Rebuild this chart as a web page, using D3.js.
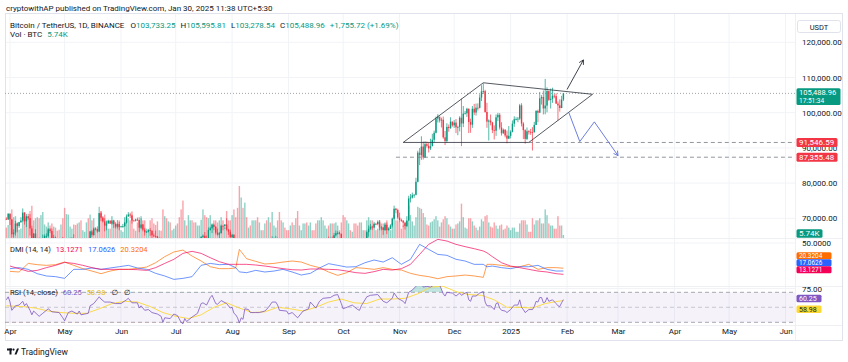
<!DOCTYPE html>
<html>

<head>
    <meta charset="utf-8">
    <title>BTCUSDT 1D</title>
    <script src="https://d3js.org/d3.v7.min.js"></script>
    <style>
    body {
        margin: 0;
        background: #fff;
    }

    svg text {
        font-family: Roboto, "Liberation Sans", "DejaVu Sans", sans-serif;
        fill: #131722;
    }
    </style>
</head>

<body>
    <script>
    // daily BTCUSDT candles from 30 Mar 2024, prices in thousands of USDT
    var startDate = "2024-03-30";
    var firstOpen = 69.87;
    var closes = [
        69.65, 71.33,
        69.70, 65.46, 65.96, 68.49, 67.84, 68.90, 69.36, 71.62, 69.14, 70.59, 70.06, 67.12, 63.92, 65.66, 63.42, 63.79, 61.28, 63.47, 63.82, 64.94, 64.94, 66.84, 66.41, 64.28, 64.50, 63.77, 63.46, 63.12, 63.84, 60.64,
        58.25, 59.12, 62.89, 63.89, 64.03, 63.16, 62.33, 61.19, 63.07, 60.79, 60.82, 61.48, 62.90, 61.55, 66.27, 65.23, 67.05, 66.94, 66.27, 71.45, 70.14, 69.12, 67.93, 68.52, 69.29, 68.50, 69.40, 68.37, 67.63, 68.35, 67.49,
        67.71, 67.76, 68.80, 70.55, 71.08, 70.79, 69.35, 69.31, 69.65, 69.51, 67.32, 68.24, 66.76, 66.01, 66.19, 66.64, 66.49, 65.15, 64.96, 64.83, 64.10, 64.25, 63.21, 60.27, 61.80, 60.86, 61.70, 60.32, 60.89, 62.68,
        62.77, 62.03, 60.20, 57.03, 56.66, 58.23, 55.85, 56.70, 58.05, 57.72, 57.34, 57.90, 59.21, 60.80, 64.72, 65.04, 64.09, 63.97, 66.68, 67.15, 68.16, 67.55, 65.92, 65.37, 65.77, 67.90, 67.80, 68.25, 66.78, 66.19, 64.62,
        65.35, 61.50, 60.68, 58.11, 54.02, 56.03, 55.12, 61.71, 60.88, 60.94, 58.71, 59.35, 60.60, 58.74, 57.56, 58.87, 59.48, 58.43, 59.49, 59.01, 61.16, 60.38, 64.10, 64.18, 64.26, 62.83, 59.42, 59.03, 59.37, 59.12, 58.97,
        57.30, 59.13, 57.48, 57.97, 56.16, 53.95, 54.16, 54.88, 57.04, 57.65, 57.34, 58.13, 60.50, 59.99, 59.13, 58.21, 60.31, 61.76, 62.95, 63.20, 63.35, 63.58, 63.33, 64.30, 63.14, 65.18, 65.77, 65.86, 65.60, 63.33,
        60.80, 60.65, 60.75, 62.08, 62.06, 62.82, 62.22, 62.13, 60.58, 60.27, 62.45, 63.19, 62.85, 66.08, 67.04, 67.61, 67.40, 68.42, 68.36, 69.00, 67.37, 67.38, 66.68, 68.16, 66.64, 67.01, 67.97, 69.91, 72.72, 72.34, 70.22,
        69.48, 69.36, 68.76, 67.80, 69.37, 75.63, 75.90, 76.54, 76.68, 80.38, 88.65, 87.95, 90.38, 87.30, 91.06, 90.61, 89.85, 90.46, 92.31, 94.29, 98.35, 98.90, 97.78, 98.00, 93.01, 91.98, 95.96, 95.64, 97.46, 96.41,
        97.19, 95.84, 95.96, 98.58, 96.94, 99.74, 99.83, 101.11, 97.35, 96.59, 101.12, 100.04, 101.42, 101.37, 104.30, 106.06, 106.14, 100.20, 97.46, 97.76, 97.22, 95.10, 94.88, 98.68, 99.40, 95.79, 94.16, 95.16, 93.53, 92.64, 93.43,
        94.59, 96.89, 98.14, 98.21, 98.31, 102.08, 96.92, 95.04, 92.55, 94.73, 94.56, 94.52, 94.50, 96.53, 100.50, 99.99, 104.08, 104.46, 101.21, 102.02, 106.15, 103.65, 103.96, 104.82, 104.71, 102.59, 102.08, 101.33, 103.733, 105.489
    ];
    var highs = [
        70.30, 71.37,
        71.34, 69.70, 66.90, 69.30, 68.70, 69.00, 70.30, 72.80, 71.75, 71.20, 71.30, 71.20, 67.90, 65.80, 66.90, 64.40, 64.50, 64.10, 65.40, 65.40, 65.70, 67.20, 67.20, 67.10, 65.30, 64.80, 63.90, 64.40, 64.20, 64.70,
        60.90, 59.60, 63.30, 64.50, 64.60, 65.50, 64.40, 62.90, 63.40, 63.40, 61.40, 61.80, 63.40, 63.10, 66.40, 66.70, 67.40, 67.40, 67.70, 71.50, 71.95, 70.60, 70.00, 69.20, 69.60, 69.50, 70.60, 69.60, 68.90, 69.50, 69.00,
        67.85, 68.40, 70.30, 71.10, 71.75, 71.60, 71.95, 69.60, 69.90, 70.20, 69.55, 69.99, 68.40, 67.30, 66.40, 66.99, 67.20, 66.50, 65.70, 66.50, 65.00, 64.50, 64.50, 63.40, 62.30, 62.50, 62.40, 62.20, 61.20, 63.00,
        63.80, 63.30, 62.30, 60.50, 57.50, 58.50, 58.45, 58.20, 58.30, 59.50, 59.40, 58.50, 59.80, 61.40, 64.90, 65.40, 66.10, 65.10, 67.40, 67.60, 68.40, 68.50, 67.80, 67.10, 66.10, 68.20, 69.40, 68.30, 70.00, 66.99, 66.80,
        65.60, 65.40, 62.20, 61.10, 58.30, 57.00, 57.70, 62.70, 61.80, 61.50, 61.90, 60.70, 61.60, 61.80, 59.80, 59.80, 59.60, 60.30, 59.60, 61.40, 61.80, 61.40, 64.90, 64.50, 65.00, 64.50, 63.20, 60.20, 61.20, 59.90, 59.40,
        59.00, 59.40, 59.80, 58.50, 58.30, 56.99, 54.90, 55.30, 58.10, 58.00, 57.99, 58.60, 60.70, 60.60, 60.40, 59.20, 61.30, 61.80, 64.10, 64.10, 63.60, 64.00, 64.80, 64.50, 64.80, 65.80, 66.50, 66.30, 66.10, 65.60,
        64.10, 62.40, 61.50, 62.50, 62.40, 62.98, 64.50, 63.30, 62.50, 61.30, 63.40, 63.50, 63.30, 66.50, 67.95, 68.40, 67.90, 68.99, 68.70, 69.40, 69.50, 67.80, 67.50, 68.80, 68.80, 67.40, 68.30, 70.20, 73.60, 72.96, 72.70,
        71.60, 69.90, 69.40, 69.00, 70.60, 76.40, 76.90, 77.30, 76.90, 81.50, 89.20, 89.96, 93.30, 91.80, 91.90, 91.80, 91.50, 92.60, 94.00, 94.90, 98.90, 99.60, 98.80, 98.60, 98.90, 94.80, 97.00, 96.65, 98.70, 97.50,
        97.90, 98.20, 96.30, 99.00, 104.00, 101.90, 100.50, 101.40, 101.20, 98.30, 101.90, 102.50, 102.60, 102.65, 105.25, 107.80, 108.35, 106.50, 102.80, 98.10, 99.50, 97.40, 96.40, 99.50, 99.96, 99.90, 97.30, 95.50, 95.30, 94.90, 96.20,
        95.00, 97.80, 98.98, 98.70, 98.80, 102.50, 102.70, 97.30, 95.30, 95.80, 95.00, 95.40, 95.90, 97.40, 100.70, 100.90, 105.90, 104.99, 106.30, 109.59, 107.20, 106.30, 106.85, 107.10, 105.30, 105.50, 103.20, 103.80, 104.80, 105.596
    ];
    var lows = [
        69.50, 69.56,
        68.10, 64.50, 64.50, 65.10, 66.00, 67.30, 68.70, 69.00, 68.20, 67.50, 69.55, 65.10, 60.66, 62.30, 62.30, 61.60, 59.80, 60.80, 59.60, 63.10, 64.30, 64.50, 65.80, 63.80, 62.80, 63.30, 62.40, 62.80, 61.80, 59.20,
        56.55, 56.90, 58.80, 62.60, 62.80, 62.70, 62.30, 60.90, 60.60, 60.20, 60.50, 60.60, 60.80, 61.10, 61.30, 64.60, 65.10, 66.60, 65.90, 66.10, 69.20, 68.80, 66.30, 66.60, 68.50, 68.40, 68.20, 67.30, 67.10, 67.10, 66.60,
        67.40, 67.30, 67.60, 68.50, 70.40, 70.10, 68.50, 69.20, 69.10, 69.20, 66.05, 66.90, 66.30, 65.10, 65.90, 66.00, 65.00, 64.10, 64.70, 64.50, 63.40, 63.95, 63.20, 58.40, 60.20, 60.70, 60.60, 60.00, 60.30, 60.70,
        62.50, 61.80, 59.40, 56.80, 53.50, 56.00, 55.70, 54.30, 56.60, 57.20, 57.00, 56.50, 57.80, 59.30, 60.60, 62.40, 63.90, 63.20, 63.30, 66.50, 65.80, 66.60, 65.40, 65.10, 63.40, 65.70, 66.60, 67.00, 66.50, 65.30, 64.50,
        62.30, 61.20, 59.80, 57.20, 49.00, 54.00, 54.60, 54.70, 59.60, 60.30, 58.40, 57.60, 58.50, 58.40, 56.10, 57.10, 58.80, 58.40, 57.90, 58.60, 58.80, 59.80, 60.30, 63.60, 63.80, 62.80, 58.10, 57.90, 58.80, 57.70, 58.70,
        57.20, 57.10, 57.40, 55.60, 55.70, 52.55, 53.70, 53.60, 54.60, 56.40, 55.50, 57.30, 57.60, 59.40, 58.70, 57.50, 57.60, 59.20, 61.70, 62.40, 62.70, 62.35, 62.80, 62.70, 62.70, 62.70, 64.80, 65.40, 65.40, 62.90,
        60.20, 59.99, 59.80, 60.50, 61.70, 61.80, 62.10, 61.90, 60.30, 58.90, 60.10, 62.40, 62.00, 62.40, 64.80, 66.70, 66.70, 67.20, 68.10, 68.00, 66.60, 66.60, 65.30, 66.40, 65.50, 66.50, 66.90, 67.40, 69.70, 71.40, 69.70,
        68.80, 69.00, 67.50, 66.80, 67.50, 69.30, 74.50, 75.60, 75.80, 76.50, 80.20, 85.10, 86.60, 86.70, 87.10, 90.10, 88.70, 89.40, 90.80, 91.50, 94.10, 97.20, 97.20, 95.80, 92.60, 90.80, 91.50, 94.60, 95.40, 96.00,
        95.70, 94.20, 93.60, 94.70, 90.50, 95.90, 99.50, 98.80, 94.20, 94.30, 95.70, 99.30, 99.20, 100.60, 101.20, 103.30, 105.30, 100.00, 95.70, 92.10, 96.40, 94.20, 92.40, 93.40, 97.60, 95.20, 93.50, 94.00, 93.00, 91.30, 92.50,
        92.70, 94.40, 96.00, 97.80, 97.30, 97.90, 96.10, 92.50, 91.20, 92.20, 93.80, 93.70, 89.26, 94.30, 96.50, 97.30, 100.00, 102.30, 99.50, 99.55, 100.10, 103.30, 101.20, 102.80, 104.10, 102.50, 97.80, 100.30, 101.30, 103.279
    ];
    // volume in thousands of BTC
    var volumes = [
        20, 25,
        45, 55, 40, 42, 30, 16, 18, 42, 40, 38, 40, 52, 62, 34, 38, 40, 38, 44, 50, 26, 22, 30, 24, 28, 22, 20, 14, 16, 26, 38,
        58, 46, 45, 22, 18, 26, 25, 28, 30, 34, 15, 12, 30, 38, 45, 34, 38, 20, 15, 60, 52, 40, 45, 34, 18, 18, 30, 30, 28, 28, 34,
        15, 12, 30, 34, 38, 34, 45, 18, 14, 30, 40, 42, 34, 34, 18, 14, 34, 38, 28, 25, 32, 15, 14, 55, 42, 38, 32, 30, 15, 18,
        24, 28, 40, 55, 72, 34, 24, 44, 34, 34, 30, 30, 24, 24, 35, 55, 44, 40, 38, 44, 28, 34, 34, 30, 34, 40, 24, 20, 52, 34, 34,
        44, 55, 40, 58, 100, 78, 58, 68, 40, 20, 24, 34, 34, 34, 40, 30, 15, 15, 28, 34, 40, 30, 50, 24, 20, 34, 50, 34, 30, 20, 15,
        15, 24, 30, 25, 38, 52, 24, 15, 28, 28, 30, 24, 30, 15, 15, 28, 34, 34, 40, 34, 24, 18, 24, 28, 28, 28, 30, 24, 15, 30,
        44, 40, 34, 28, 15, 12, 28, 28, 24, 30, 30, 15, 15, 34, 40, 34, 34, 28, 15, 18, 34, 28, 28, 28, 34, 20, 15, 28, 44, 34, 34,
        30, 18, 24, 28, 32, 62, 44, 32, 24, 40, 60, 58, 56, 48, 40, 26, 24, 30, 32, 36, 42, 34, 22, 30, 36, 42, 38, 26, 22, 18,
        18, 26, 28, 32, 66, 40, 20, 18, 38, 38, 32, 24, 20, 15, 22, 36, 32, 42, 44, 30, 22, 20, 30, 24, 18, 24, 26, 16, 18, 24, 20,
        15, 20, 20, 12, 12, 28, 34, 34, 34, 26, 12, 12, 38, 26, 34, 34, 38, 28, 28, 55, 44, 28, 24, 24, 18, 18, 42, 24, 24, 5.74
    ];

    var monthTicks = ["2024-04-01", "2024-05-01", "2024-06-01", "2024-07-01", "2024-08-01", "2024-09-01", "2024-10-01",
        "2024-11-01", "2024-12-01", "2025-01-01", "2025-02-01", "2025-03-01", "2025-04-01", "2025-05-01", "2025-06-01"];
    var monthLabels = ["Apr", "May", "Jun", "Jul", "Aug", "Sep", "Oct", "Nov", "Dec", "2025", "Feb", "Mar", "Apr", "May", "Jun"];
    var priceTicks = [70000, 80000, 90000, 100000, 110000, 120000];

    // indicator readings, day 0 = 1 Apr 2024
    var dmiDays = [0, 5, 10, 15, 20, 25, 30, 35, 40, 45, 50, 55, 60, 65, 70, 75, 80, 85, 90, 95, 100, 105, 110, 115, 120, 124, 126,
        130, 135, 140, 145, 150, 155, 160, 165, 170, 175, 180, 185, 190, 195, 200, 205, 210, 215, 220, 225, 230, 235, 240, 245,
        250, 255, 260, 262, 265, 270, 275, 280, 285, 290, 295, 300, 304];
    var adx = [22.9, 19.8, 16.6, 17.8, 21.0, 23.7, 27.2, 26.0, 23.7, 21.0, 19.0, 19.0, 19.0, 19.0, 18.6, 17.8, 21.0, 26.0, 30.8, 37.8,
        40.2, 37.8, 32.7, 28.0, 24.9, 24.9, 24.9, 24.9, 24.1, 22.9, 21.4, 19.8, 18.6, 18.2, 19.4, 19.4, 19.0, 18.6, 17.0, 15.1, 14.3,
        16.3, 19.0, 18.2, 19.8, 24.9, 36.6, 48.4, 54.3, 52.3, 48.4, 45.7, 43.3, 40.6, 38.5, 33.9, 26.8, 22.9, 21.0, 19.0, 17.0, 15.9,
        13.9, 13.1271];
    var plusDI = [19.8, 21.0, 19.0, 13.9, 11.2, 10.4, 8.4, 19.0, 19.0, 20.6, 19.0, 20.6, 22.1, 23.7, 20.6, 19.0, 14.3, 11.2, 7.2, 8.4,
        10.4, 23.7, 26.0, 24.5, 24.9, 21.0, 16.0, 15.1, 17.8, 15.9, 17.0, 19.0, 15.9, 12.3, 14.3, 20.6, 25.7, 23.7, 21.7, 22.1, 26.8,
        30.0, 27.6, 32.7, 24.9, 30.8, 48.4, 42.5, 36.6, 35.5, 30.8, 28.8, 24.9, 24.9, 22.0, 22.9, 21.0, 19.8, 22.1, 22.1, 23.7, 19.0,
        17.0, 17.0626];
    var minusDI = [16.6, 15.9, 26.0, 24.5, 23.7, 24.5, 27.6, 23.7, 19.8, 17.0, 13.9, 17.0, 19.0, 19.0, 20.2, 21.7, 26.8, 33.9, 39.4, 41.7,
        34.7, 28.8, 22.1, 19.8, 19.8, 20.6, 42.5, 31.5, 28.4, 25.3, 26.0, 27.6, 28.8, 27.6, 23.7, 21.0, 15.9, 11.9, 15.1, 21.0, 20.2,
        19.0, 21.0, 19.0, 18.2, 14.3, 11.9, 10.4, 8.0, 10.4, 11.2, 12.3, 11.2, 9.6, 24.9, 24.9, 23.7, 22.1, 22.1, 24.9, 19.0, 21.0,
        21.0, 20.3204];

    var rsiDays = [-2, -1, 0, 1, 3, 5, 7, 8, 9, 11, 12, 13, 16, 18, 21, 23, 27, 29, 30, 32, 34, 37, 38, 39, 43, 44, 46, 49, 50, 52, 55,
        58, 61, 64, 65, 67, 70, 71, 72, 74, 76, 78, 81, 83, 84, 85, 88, 90, 92, 94, 95, 96, 97, 100, 103, 105, 106, 108, 110, 111, 113,
        114, 116, 119, 121, 122, 123, 124, 125, 126, 127, 128, 129, 131, 132, 135, 137, 140, 142, 144, 146, 147, 148, 152, 153, 155,
        158, 161, 164, 165, 168, 170, 172, 176, 178, 180, 182, 183, 186, 188, 191, 192, 193, 196, 198, 202, 205, 207, 210, 211, 213,
        216, 217, 219, 221, 223, 224, 226, 227, 229, 231, 233, 235, 236, 238, 239, 240, 243, 245, 247, 248, 250, 251, 252, 253, 254,
        256, 258, 260, 261, 262, 264, 266, 267, 268, 269, 270, 272, 273, 275, 277, 279, 280, 281, 282, 283, 285, 287, 288, 289, 290,
        291, 292, 293, 294, 295, 296, 298, 300, 301, 302, 303, 304];
    var rsi = [60, 64, 57, 46, 52, 53, 58, 52, 55, 46, 40, 45, 38, 42, 48, 44, 43, 36, 32, 43, 45, 41, 45, 40, 42, 52, 55, 64, 61, 57, 57,
        55, 55, 60, 62, 56, 56, 49, 52, 46, 47, 43, 41, 38, 30, 36, 35, 41, 39, 30, 28, 35, 31, 37, 42, 55, 56, 53, 63, 66, 55,
        54, 59, 55, 49, 50, 42, 40, 36, 29, 36, 34, 48, 47, 43, 43, 43, 45, 50, 57, 57, 53, 46, 45, 41, 43,
        36, 45, 48, 57, 49, 58, 62, 63, 66, 67, 55, 48, 51, 53, 47, 46, 52, 64, 66, 67, 58, 56, 62, 69, 62,
        58, 55, 70, 73, 78, 84, 84, 77, 78, 77, 80, 82, 80, 68, 65, 70, 69, 65, 69, 66, 69, 70, 60, 58, 65,
        65, 69, 71, 57, 52, 52, 47, 55, 56, 49, 46, 45, 43, 47, 53, 53, 60, 50, 47, 43, 47, 47, 51, 58, 57,
        63, 63, 56, 57, 63, 58, 60, 55, 52, 51, 56, 60.25];
    var rsiMaDays = [-2, 7, 14, 21, 28, 35, 42, 49, 56, 63, 70, 77, 84, 91, 98, 105, 112, 119, 126, 133, 140, 147, 154, 161, 168, 175,
        182, 189, 196, 203, 210, 217, 224, 231, 238, 245, 252, 259, 266, 273, 280, 287, 294, 301, 304];
    var rsiMa = [52, 51, 49, 45, 43, 42, 42, 48, 55, 58, 57, 51, 43, 38, 35, 40, 50, 56, 49, 43, 44, 50, 48, 45, 50, 57,
        61, 56, 55, 61, 61, 62, 68, 77, 78, 71, 67, 66, 60, 50, 50, 49, 55, 58, 58.98];

    // drawings on the chart, [date, price in thousands]
    var diamond = [["2024-11-03", 91.55], ["2024-12-17", 108.5], ["2025-02-15", 105.23], ["2025-01-11", 91.55], ["2024-11-03", 91.55]];
    var upArrow = [["2025-02-01", 106.6], ["2025-02-10", 115.0]];
    var downPath = [["2025-02-02", 100.0], ["2025-02-08", 91.8], ["2025-02-16", 97.4], ["2025-03-01", 87.8]];
    var levelPrices = [91546.59, 87355.48];
    var levelStarts = ["2025-01-11", "2024-10-30"];
    var lastBar = [103733.25, 105595.81, 103278.54, 105488.96];
    var lastChange = [1755.72, 1.69];

    var width = 848, height = 362;
    var up = "#089981", down = "#f23645";
    var parse = d3.timeParse("%Y-%m-%d");
    var day0 = parse("2024-04-01");
    var first = parse(startDate);

    var x = d3.scaleTime().domain([day0, parse("2025-06-01")]).range([10, 785.5]);
    var yP = d3.scaleLinear().domain([64403, 128324]).range([238, 13]);
    var yV = d3.scaleLinear().domain([0, 100]).range([238, 186]);
    var yD = d3.scaleLinear().domain([0, 50]).range([285.5, 243]);
    var yR = d3.scaleLinear().domain([30, 70]).range([322.3, 292.3]);
    var dayX = function(d) { return x(d3.timeDay.offset(day0, d)); };

    var svg = d3.select("body").append("svg")
        .attr("width", width)
        .attr("height", height);

    var defs = svg.append("defs");
    function clip(id, y0, y1) {
        defs.append("clipPath").attr("id", id).append("rect")
            .attr("x", 5).attr("y", y0).attr("width", 790).attr("height", y1 - y0);
    }
    clip("cp", 13, 238);
    clip("cd", 238, 286);
    clip("cr", 286, 325);
    clip("cob", 286, yR(70));
    clip("cos", yR(30), 325);

    // frame and grid
    svg.append("rect").attr("x", 5.5).attr("y", 13.5).attr("width", 837).attr("height", 327)
        .attr("fill", "none").attr("stroke", "#e0e3eb");
    svg.append("g").selectAll("line").data(monthTicks).enter().append("line")
        .attr("x1", function(d) { return x(parse(d)); })
        .attr("x2", function(d) { return x(parse(d)); })
        .attr("y1", 14).attr("y2", 325)
        .attr("stroke", "#f2f3f7");
    svg.append("g").selectAll("line").data(priceTicks).enter().append("line")
        .attr("x1", 6).attr("x2", 795)
        .attr("y1", function(d) { return yP(d); })
        .attr("y2", function(d) { return yP(d); })
        .attr("stroke", "#f2f3f7");
    [yD(50), yR(75)].forEach(function(v) {
        svg.append("line").attr("x1", 6).attr("x2", 795).attr("y1", v).attr("y2", v).attr("stroke", "#f2f3f7");
    });
    [238, 286, 325].forEach(function(v) {
        svg.append("line").attr("x1", 6).attr("x2", 842).attr("y1", v + 0.5).attr("y2", v + 0.5).attr("stroke", "#eef0f4");
    });
    svg.append("line").attr("x1", 795.5).attr("x2", 795.5).attr("y1", 14).attr("y2", 340).attr("stroke", "#eef0f4");

    // candles
    var bars = closes.map(function(c, i) {
        return {
            date: d3.timeDay.offset(first, i),
            open: i ? closes[i - 1] : firstOpen,
            close: c,
            high: highs[i],
            low: lows[i],
            vol: volumes[i]
        };
    });

    var price = svg.append("g").attr("clip-path", "url(#cp)");

    price.selectAll("rect.vol").data(bars).enter().append("rect")
        .attr("class", "vol")
        .attr("x", function(d) { return x(d.date) - 0.7; })
        .attr("width", 1.4)
        .attr("y", function(d) { return yV(d.vol); })
        .attr("height", function(d) { return yV(0) - yV(d.vol); })
        .attr("fill", function(d) { return d.close >= d.open ? up : down; })
        .attr("fill-opacity", 0.45);

    // current price line
    price.append("line")
        .attr("x1", 5).attr("x2", 795)
        .attr("y1", yP(lastBar[3])).attr("y2", yP(lastBar[3]))
        .attr("stroke", "#8a8d96").attr("stroke-width", 0.8).attr("stroke-dasharray", "1,2");

    price.selectAll("line.wick").data(bars).enter().append("line")
        .attr("class", "wick")
        .attr("x1", function(d) { return x(d.date); })
        .attr("x2", function(d) { return x(d.date); })
        .attr("y1", function(d) { return yP(d.high * 1000); })
        .attr("y2", function(d) { return yP(d.low * 1000); })
        .attr("stroke", function(d) { return d.close >= d.open ? up : down; })
        .attr("stroke-width", 0.7);

    price.selectAll("rect.body").data(bars).enter().append("rect")
        .attr("class", "body")
        .attr("x", function(d) { return x(d.date) - 0.7; })
        .attr("width", 1.4)
        .attr("y", function(d) { return yP(Math.max(d.open, d.close) * 1000); })
        .attr("height", function(d) { return Math.max(0.8, Math.abs(yP(d.open * 1000) - yP(d.close * 1000))); })
        .attr("fill", function(d) { return d.close >= d.open ? up : down; });

    // dashed levels
    levelPrices.forEach(function(p, i) {
        price.append("line")
            .attr("x1", x(parse(levelStarts[i]))).attr("x2", 795)
            .attr("y1", yP(p)).attr("y2", yP(p))
            .attr("stroke", "#787b86").attr("stroke-width", 0.8).attr("stroke-dasharray", "4,3");
    });

    // drawings
    var pt = d3.line()
        .x(function(d) { return x(parse(d[0])); })
        .y(function(d) { return yP(d[1] * 1000); });
    price.append("path").attr("d", pt(diamond))
        .attr("fill", "none").attr("stroke", "#2a2e39").attr("stroke-width", 0.8);

    function arrow(points, color) {
        price.append("path").attr("d", pt(points))
            .attr("fill", "none").attr("stroke", color).attr("stroke-width", 0.9);
        var a = points[points.length - 2], b = points[points.length - 1];
        var x1 = x(parse(a[0])), y1 = yP(a[1] * 1000), x2 = x(parse(b[0])), y2 = yP(b[1] * 1000);
        var ang = Math.atan2(y2 - y1, x2 - x1), s = 5;
        var head = [[x2 - s * Math.cos(ang - 0.5), y2 - s * Math.sin(ang - 0.5)], [x2, y2],
            [x2 - s * Math.cos(ang + 0.5), y2 - s * Math.sin(ang + 0.5)]];
        price.append("path").attr("d", d3.line()(head))
            .attr("fill", "none").attr("stroke", color).attr("stroke-width", 0.9);
    }
    arrow(upArrow, "#2a2e39");
    arrow(downPath, "#5b6fd8");

    // DMI pane
    var dmi = svg.append("g").attr("clip-path", "url(#cd)");
    var dLine = function(vals) {
        return d3.line()
            .x(function(d, i) { return dayX(dmiDays[i]); })
            .y(function(d) { return yD(d); })(vals);
    };
    [[minusDI, "#ff6d00"], [plusDI, "#2962ff"], [adx, "#f50057"]].forEach(function(s) {
        dmi.append("path").attr("d", dLine(s[0]))
            .attr("fill", "none").attr("stroke", s[1]).attr("stroke-width", 0.8).attr("stroke-opacity", 0.85);
    });

    // RSI pane
    var rp = svg.append("g").attr("clip-path", "url(#cr)");
    rp.append("rect").attr("x", 5).attr("width", 790)
        .attr("y", yR(70)).attr("height", yR(30) - yR(70))
        .attr("fill", "#7e57c2").attr("fill-opacity", 0.08);
    [70, 50, 30].forEach(function(v) {
        rp.append("line").attr("x1", 5).attr("x2", 795).attr("y1", yR(v)).attr("y2", yR(v))
            .attr("stroke", "#787b86").attr("stroke-opacity", v == 50 ? 0.45 : 0.8)
            .attr("stroke-width", 0.8).attr("stroke-dasharray", "4,3");
    });
    var rsiPts = rsi.map(function(v, i) { return [dayX(rsiDays[i]), v]; });
    rp.append("path").attr("clip-path", "url(#cob)")
        .attr("d", d3.area().x(function(d) { return d[0]; }).y0(yR(70)).y1(function(d) { return yR(d[1]); })(rsiPts))
        .attr("fill", up).attr("fill-opacity", 0.25);
    rp.append("path").attr("clip-path", "url(#cos)")
        .attr("d", d3.area().x(function(d) { return d[0]; }).y0(yR(30)).y1(function(d) { return yR(d[1]); })(rsiPts))
        .attr("fill", down).attr("fill-opacity", 0.25);
    rp.append("path")
        .attr("d", d3.line().x(function(d, i) { return dayX(rsiMaDays[i]); }).y(function(d) { return yR(d); })(rsiMa))
        .attr("fill", "none").attr("stroke", "#fdd835").attr("stroke-width", 0.9);
    rp.append("path")
        .attr("d", d3.line().x(function(d) { return d[0]; }).y(function(d) { return yR(d[1]); })(rsiPts))
        .attr("fill", "none").attr("stroke", "#7e57c2").attr("stroke-width", 0.8);

    // axes
    svg.append("g").attr("transform", "translate(795,0)")
        .call(d3.axisRight(yP).tickValues(priceTicks).tickFormat(d3.format(",.2f")).tickSize(0).tickPadding(7));
    svg.append("g").attr("transform", "translate(795,0)")
        .call(d3.axisRight(yD).tickValues([50]).tickFormat(d3.format(".4f")).tickSize(0).tickPadding(7));
    svg.append("g").attr("transform", "translate(795,0)")
        .call(d3.axisRight(yR).tickValues([75]).tickFormat(d3.format(".2f")).tickSize(0).tickPadding(7));
    svg.append("g").attr("transform", "translate(0,325)")
        .call(d3.axisBottom(x).tickValues(monthTicks.map(parse))
            .tickFormat(function(d, i) { return monthLabels[i]; }).tickSize(0).tickPadding(3));
    svg.selectAll(".domain").remove();
    svg.selectAll(".tick text").attr("font-size", 8).style("fill", "#131722")
        .style("font-family", "Roboto, 'Liberation Sans', sans-serif");

    svg.append("rect").attr("x", 797.5).attr("y", 20.5).attr("width", 43).attr("height", 12)
        .attr("fill", "#fff").attr("stroke", "#e0e3eb").attr("rx", 2);
    svg.append("text").attr("x", 819).attr("y", 29.5).attr("text-anchor", "middle")
        .attr("font-size", 7.5).text("USDT");

    // value tags on the right scale
    function tag(y, txt, fill, w, h, color, size) {
        svg.append("rect").attr("x", 796.5).attr("y", y - h / 2).attr("width", w).attr("height", h)
            .attr("rx", 1.5).attr("fill", fill);
        svg.append("text").attr("x", 799).attr("y", y).attr("dy", "0.35em")
            .attr("font-size", size || 8).style("fill", color || "#fff").text(txt);
    }
    var f2 = d3.format(",.2f");
    var yLast = yP(lastBar[3]);
    svg.append("rect").attr("x", 796.5).attr("y", yLast - 5.2).attr("width", 44).attr("height", 16.8)
        .attr("rx", 1.5).attr("fill", up);
    svg.append("text").attr("x", 799).attr("y", yLast - 0.6).attr("dy", "0.35em")
        .attr("font-size", 7.5).style("fill", "#fff").text(f2(lastBar[3]));
    svg.append("text").attr("x", 799).attr("y", yLast + 7.4).attr("dy", "0.35em")
        .attr("font-size", 6.5).style("fill", "#fff").text("17:51:34");
    tag(yP(levelPrices[0]), f2(levelPrices[0]), "#f23645", 41, 9);
    tag(yP(levelPrices[1]), f2(levelPrices[1]), "#f23645", 41, 9);
    tag(yV(volumes[volumes.length - 1]) - 1.5, "5.74K", up, 26, 8.5);
    tag(255.7, d3.format(".4f")(minusDI[minusDI.length - 1]), "#ff6d00", 35, 7, "#fff", 6.4);
    tag(262.7, d3.format(".4f")(plusDI[plusDI.length - 1]), "#2962ff", 35, 7, "#fff", 6.4);
    tag(269.7, d3.format(".4f")(adx[adx.length - 1]), "#f50057", 35, 7, "#fff", 6.4);
    tag(298.6, d3.format(".2f")(rsi[rsi.length - 1]), "#7e57c2", 25, 7.5, "#fff", 7);
    tag(309.3, d3.format(".2f")(rsiMa[rsiMa.length - 1]), "#fdd835", 25, 7.5, "#131722", 7);

    // header texts
    var teal = "#089981";
    svg.append("text").attr("x", 6).attr("y", 11).attr("font-size", 8)
        .text("cryptowithAP published on TradingView.com, Jan 30, 2025 11:38 UTC+5:30");
    var h2 = svg.append("text").attr("x", 10).attr("y", 28).attr("font-size", 8);
    h2.append("tspan").text("Bitcoin / TetherUS, 1D, BINANCE");
    ["O", "H", "L", "C"].forEach(function(k, i) {
        h2.append("tspan").attr("dx", i ? 5 : 6).text(k);
        h2.append("tspan").style("fill", teal).text(f2(lastBar[i]));
    });
    h2.append("tspan").attr("dx", 5).style("fill", teal)
        .text("+" + f2(lastChange[0]) + " (+" + d3.format(".2f")(lastChange[1]) + "%)");
    var h3 = svg.append("text").attr("x", 10).attr("y", 37).attr("font-size", 8);
    h3.append("tspan").text("Vol · BTC");
    h3.append("tspan").attr("dx", 5).style("fill", teal).text("5.74K");

    var dl = svg.append("text").attr("x", 10).attr("y", 251.5).attr("font-size", 7.5);
    dl.append("tspan").text("DMI (14, 14)");
    dl.append("tspan").attr("dx", 5).style("fill", "#f50057").text(d3.format(".4f")(adx[adx.length - 1]));
    dl.append("tspan").attr("dx", 5).style("fill", "#2962ff").text(d3.format(".4f")(plusDI[plusDI.length - 1]));
    dl.append("tspan").attr("dx", 5).style("fill", "#ff6d00").text(d3.format(".4f")(minusDI[minusDI.length - 1]));

    var rl = svg.append("text").attr("x", 10).attr("y", 294.5).attr("font-size", 7.5);
    rl.append("tspan").text("RSI (14, close)");
    rl.append("tspan").attr("dx", 5).style("fill", "#7e57c2").text(d3.format(".2f")(rsi[rsi.length - 1]));
    rl.append("tspan").attr("dx", 5).style("fill", "#e5c100").text(d3.format(".2f")(rsiMa[rsiMa.length - 1]));
    rl.append("tspan").attr("dx", 6).text("∅");
    rl.append("tspan").attr("dx", 6).text("∅");

    // footer logo
    var logo = svg.append("g").attr("fill", "#131722");
    logo.append("rect").attr("x", 7).attr("y", 348.5).attr("width", 5).attr("height", 2);
    logo.append("rect").attr("x", 9.5).attr("y", 348.5).attr("width", 2).attr("height", 6);
    logo.append("circle").attr("cx", 13.5).attr("cy", 349.6).attr("r", 1.1);
    logo.append("path").attr("d", "M14.5,354.5 L17,348.5 L19,348.5 L16.5,354.5 Z");
    svg.append("text").attr("x", 21).attr("y", 354.5).attr("font-size", 8.5).text("TradingView");
    </script>
</body>

</html>
